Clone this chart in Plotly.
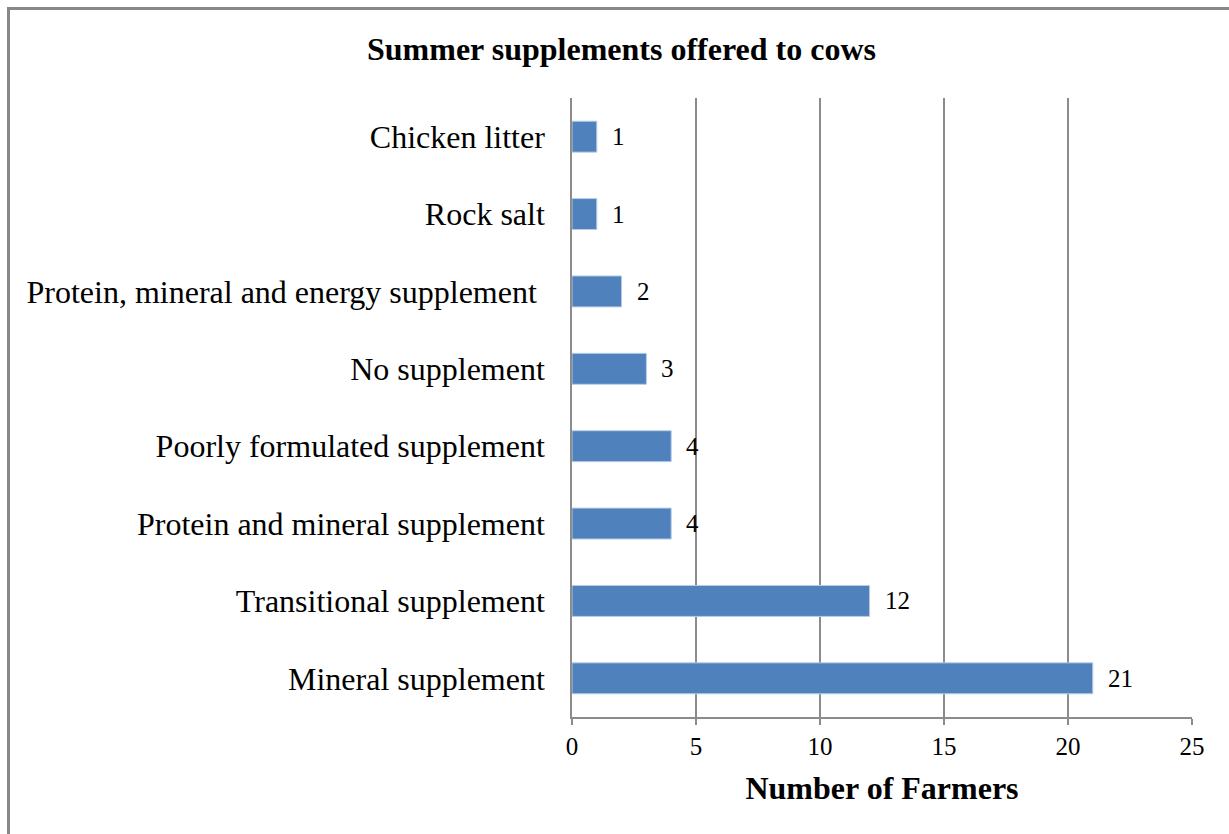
import plotly.graph_objects as go

categories = ["Mineral supplement", "Transitional supplement", "Protein and mineral supplement",
              "Poorly formulated supplement", "No supplement",
              "Protein, mineral and energy supplement ", "Rock salt", "Chicken litter"]
values = [21, 12, 4, 4, 3, 2, 1, 1]
x_ticks = [0, 5, 10, 15, 20, 25]

FONT = "Liberation Serif, Times New Roman, serif"

fig = go.Figure()
fig.add_trace(go.Bar(
    x=values, y=categories, orientation="h",
    marker=dict(color="#4F81BD", line=dict(color="#B9CDE5", width=1)),
    width=0.4, showlegend=False,
))
for v, c in zip(values, categories):
    fig.add_annotation(x=v, y=c, text=str(v), showarrow=False, xanchor="left",
                       xshift=13, font=dict(family=FONT, size=25, color="black"))

L, R, T, B = 572, 1192, 98, 717
W, H = 1229, 834
fig.update_layout(
    width=W, height=H,
    margin=dict(l=L, r=W - R, t=T, b=H - B, pad=0),
    paper_bgcolor="white", plot_bgcolor="white",
    font=dict(family=FONT, color="black"),
    title=dict(text="<b>Summer supplements offered to cows</b>", x=(365 + 878) / 2 / W, xanchor="center",
               y=1 - 49 / H, yanchor="middle", font=dict(family=FONT, size=32, color="black")),
    xaxis=dict(range=[0, 25], tickvals=x_ticks, showgrid=True, gridcolor="#8C8C8C", gridwidth=1.5,
               showline=True, linecolor="#8C8C8C", linewidth=1.5, ticks="outside", ticklen=6,
               tickcolor="#8C8C8C", tickwidth=1.5, tickfont=dict(family=FONT, size=25, color="black"),
               zeroline=False,
               title=dict(text="<b>Number of Farmers</b>", standoff=18,
                          font=dict(family=FONT, size=32, color="black"))),
    yaxis=dict(categoryorder="array", categoryarray=categories, showline=True, linecolor="#8C8C8C",
               linewidth=1.5, ticks="", tickfont=dict(family=FONT, size=32, color="black"),
               showgrid=False, ticklabelstandoff=19),
    shapes=[dict(type="rect", xref="paper", yref="paper",
                 x0=(8.5 - L) / (R - L), x1=(1260 - L) / (R - L),
                 y0=(B - 870) / (B - T), y1=(B - 8.5) / (B - T),
                 line=dict(color="#888888", width=3), fillcolor="rgba(0,0,0,0)", layer="below")],
)
fig.write_html("out.html", config={"displayModeBar": False},
               post_script="document.body.style.margin='0px';document.body.style.overflow='hidden';")
